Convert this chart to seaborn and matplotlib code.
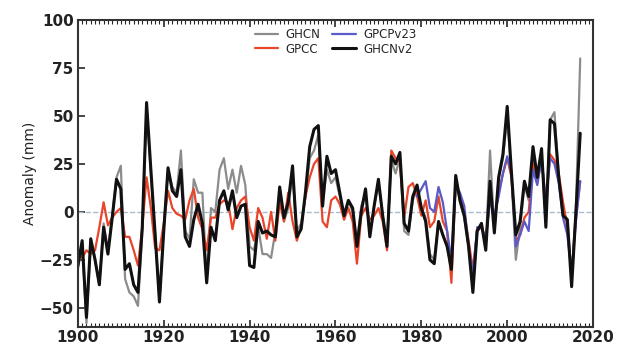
import numpy as np
import pandas as pd
import matplotlib
matplotlib.use('Agg')
import matplotlib.pyplot as plt
from matplotlib.ticker import MultipleLocator
import seaborn as sns

# Datos (anomalia de precipitacion, mm)
years = list(range(1900, 2018))
gpcp_years = list(range(1979, 2018))

ghcn = [-30, -17, -58, -15, -25, -38, -6, -20, -2, 18,
        24, -35, -42, -44, -49, -10, 55, 20, -12, -46,
        -8, 22, 13, 10, 32, -10, -14, 17, 10, 10,
        -35, 2, 0, 22, 28, 12, 22, 10, 24, 14,
        -18, -20, -8, -22, -22, -24, -10, 10, -5, 2,
        20, -10, -6, 8, 28, 32, 40, 5, 22, 15,
        18, 8, -4, 6, 0, -16, 3, 10, -12, 3,
        15, -2, -16, 27, 20, 28, -10, -12, 6, 12,
        2, -3, -22, -25, -5, -12, -18, -30, 18, 5,
        -3, -18, -40, -10, -6, -18, 32, -10, 17, 28,
        50, 18, -25, -8, 14, 6, 30, 18, 30, -6,
        48, 52, 18, 0, -4, -36, 2, 80]

gpcc = [-22, -24, -20, -22, -20, -8, 5, -7, -3, 0,
        2, -13, -13, -20, -28, -8, 18, 2, -19, -20,
        -6, 11, 2, -1, -2, -4, 6, 12, -3, -9,
        -20, -3, -3, 4, 6, 5, -9, 2, 6, 8,
        -8, -15, 2, -3, -14, 0, -15, 5, -5, 10,
        -5, -15, -8, 8, 18, 25, 28, -5, -8, 6,
        8, 4, -4, 2, -5, -27, -2, 2, -4, -2,
        2, -5, -20, 32, 28, 26, -3, 13, 15, 8,
        -2, 6, -8, -5, 8, -5, -10, -37, 15, 8,
        0, -15, -30, -10, -8, -15, 8, -5, 10, 20,
        28, 18, -15, -12, -3, 0, 25, 15, 28, 5,
        30, 27, 20, 5, -8, -32, -2, 16]

gpcpv23 = [8, 12, 16, 2, 0, 13, 5, -10, -25, 14,
           10, 3, -18, -33, -8, -8, -14, 6, -2, 8,
           20, 29, 20, -18, -12, -5, -10, 22, 14, 28,
           5, 28, 25, 15, -3, -12, -32, -5, 16]

ghcnv2 = [-28, -15, -55, -14, -25, -38, -8, -22, -3, 17,
          12, -30, -27, -38, -42, -8, 57, 22, -12, -47,
          -10, 23, 11, 8, 22, -13, -18, -4, 4, -6,
          -37, -8, -15, 6, 11, 1, 11, -3, 3, 4,
          -28, -29, -5, -11, -10, -12, -13, 13, -3, 5,
          24, -13, -9, 10, 34, 43, 45, 3, 29, 20,
          22, 10, -2, 6, 2, -18, 0, 12, -13, 3,
          17, -2, -18, 29, 25, 31, -6, -10, 8, 14,
          2, -5, -25, -27, -5, -12, -18, -30, 19, 6,
          -2, -18, -42, -10, -6, -20, 16, -11, 18, 30,
          55, 20, -12, -5, 16, 8, 34, 18, 33, -8,
          48, 46, 18, -2, -4, -39, 0, 41]

df = pd.DataFrame({'Year': years, 'GHCN': ghcn, 'GPCC': gpcc, 'GHCNv2': ghcnv2})
df_gpcp = pd.DataFrame({'Year': gpcp_years, 'GPCPv23': gpcpv23})

sns.set_style('ticks')
plt.rcParams['font.family'] = ['DejaVu Sans']

fig, ax = plt.subplots(figsize=(6.23, 3.46), dpi=100)
fig.subplots_adjust(left=0.125, right=0.952, top=0.942, bottom=0.055)

# linea de cero
ax.axhline(0, color='#a9bccc', lw=1.0, ls='--', zorder=1)

sns.lineplot(x='Year', y='GHCN', data=df, color='#8c8c8c', lw=1.6, label='GHCN', ax=ax)
sns.lineplot(x='Year', y='GPCC', data=df, color='#e8452a', lw=1.6, label='GPCC', ax=ax)
sns.lineplot(x='Year', y='GPCPv23', data=df_gpcp, color='#5a5ac8', lw=1.6, label='GPCPv23', ax=ax)
sns.lineplot(x='Year', y='GHCNv2', data=df, color='#111111', lw=2.2, label='GHCNv2', ax=ax)

ax.set_xlim(1900, 2020)
ax.set_ylim(-60, 100)
ax.xaxis.set_major_locator(MultipleLocator(20))
ax.xaxis.set_minor_locator(MultipleLocator(1))
ax.yaxis.set_major_locator(MultipleLocator(25))

ax.tick_params(axis='x', which='major', direction='in', length=5, width=1.2,
               top=True, labelsize=11, pad=2)
ax.tick_params(axis='x', which='minor', direction='in', length=3, width=0.8, top=True)
ax.tick_params(axis='y', which='major', direction='in', length=5, width=1.2,
               labelsize=11, pad=3)
for lab in ax.get_xticklabels() + ax.get_yticklabels():
    lab.set_fontweight('bold')
    lab.set_color('#222222')

for s in ax.spines.values():
    s.set_color('#333333')
    s.set_linewidth(1.5)

ax.set_xlabel('')
ax.set_ylabel('Anomaly (mm)', fontsize=10, color='#222222', labelpad=2)

ax.legend(loc='upper center', bbox_to_anchor=(0.5, 1.0), ncol=2, frameon=False,
          fontsize=8.5, handlelength=2.0, columnspacing=1.0, labelspacing=0.1,
          handletextpad=0.6, borderaxespad=0.3)

fig.savefig('out.png', dpi=100)
